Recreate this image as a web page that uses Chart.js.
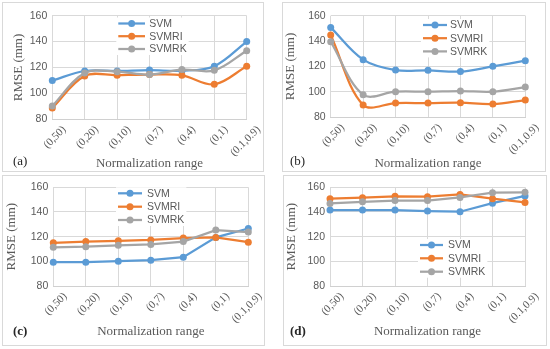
<!DOCTYPE html>
<html>
<head>
<meta charset="utf-8">
<script src="https://cdn.jsdelivr.net/npm/chart.js@4.4.0/dist/chart.umd.min.js"></script>
<style>
    body { margin: 0; background: #fff; }
    #page { position: relative; width: 550px; height: 349px; overflow: hidden; }
    .panel { position: absolute; box-sizing: border-box; border: 1px solid #d9d9d9; }
    .panel canvas { display: block; }
</style>
</head>
<body>
<div id="page">
    <div class="panel" style="left:2px;top:2px;width:262px;height:170px;"><canvas id="chartA" width="260" height="168"></canvas></div>
    <div class="panel" style="left:282px;top:2px;width:264px;height:170px;"><canvas id="chartB" width="262" height="168"></canvas></div>
    <div class="panel" style="left:2px;top:175px;width:263px;height:171px;"><canvas id="chartC" width="261" height="169"></canvas></div>
    <div class="panel" style="left:283px;top:175px;width:264px;height:171px;"><canvas id="chartD" width="262" height="169"></canvas></div>
</div>
<script>
// Data
const ranges = ['(0,50)', '(0,20)', '(0,10)', '(0,7)', '(0,4)', '(0,1)', '(0.1,0.9)'];
const seriesNames = ['SVM', 'SVMRI', 'SVMRK'];
const yTicks = [80, 100, 120, 140, 160];

const svmA   = [110, 117.3, 117.3, 118, 117.5, 121, 140];
const svmriA = [88.8, 113.5, 114, 114.5, 114, 107, 121];
const svmrkA = [90.3, 115.8, 116.8, 114.5, 118.4, 117.8, 133];

const svmB   = [150.8, 125.4, 117.2, 117, 116, 120.1, 124.6];
const svmriB = [144.8, 89.7, 91.2, 91.2, 91.5, 90.4, 93.6];
const svmrkB = [139.5, 97.8, 100.2, 100.2, 100.7, 100.2, 103.8];

const svmC   = [99.3, 99.3, 100.1, 100.9, 103.4, 119.4, 126.6];
const svmriC = [115, 116, 116.6, 117.3, 118.9, 119.4, 115.5];
const svmrkC = [111.4, 111.9, 113, 113.7, 116, 125.3, 123.7];

const svmD   = [141.5, 141.5, 141.5, 140.7, 140.2, 147.1, 153];
const svmriD = [150.8, 151.6, 152.7, 152.4, 154.2, 150.8, 147.7];
const svmrkD = [146.9, 148.2, 149.2, 149.2, 151.8, 155.6, 155.9];

const colors = ['#5b9bd5', '#ed7d31', '#a5a5a5'];
const textGray = '#595959';

// Legend drawn inside the plot area, plus the (a)/(b)... panel tag
const panelDecor = {
    id: 'panelDecor',
    afterDraw(chart, args, opts) {
        const ctx = chart.ctx;
        const lg = opts.legend;
        ctx.save();
        ctx.font = '10.5px "Liberation Sans", Arial, sans-serif';
        let maxW = 0;
        seriesNames.forEach(n => { maxW = Math.max(maxW, ctx.measureText(n).width); });
        ctx.fillStyle = '#fff';
        ctx.fillRect(lg.x0 - 2, lg.rows[0] - 6, lg.tx - lg.x0 + maxW + 4, lg.rows[2] - lg.rows[0] + 12);
        seriesNames.forEach((name, i) => {
            const y = lg.rows[i];
            ctx.strokeStyle = colors[i];
            ctx.lineWidth = 2.25;
            ctx.beginPath();
            ctx.moveTo(lg.x0, y);
            ctx.lineTo(lg.x1, y);
            ctx.stroke();
            ctx.fillStyle = colors[i];
            ctx.beginPath();
            ctx.arc((lg.x0 + lg.x1) / 2, y, 3.5, 0, Math.PI * 2);
            ctx.fill();
            ctx.fillStyle = textGray;
            ctx.textAlign = 'left';
            ctx.textBaseline = 'middle';
            ctx.fillText(name, lg.tx, y + 0.5);
        });
        ctx.font = (opts.tagBold ? 'bold ' : '') + '13px "Liberation Serif", "Times New Roman", serif';
        ctx.fillStyle = '#262626';
        ctx.textAlign = 'left';
        ctx.textBaseline = 'middle';
        ctx.fillText(opts.tag, opts.tagX, opts.tagY);
        ctx.restore();
    }
};

function makePanel(id, svm, svmri, svmrk, geo) {
    const ctx = document.getElementById(id).getContext('2d');
    const values = [svm, svmri, svmrk];
    new Chart(ctx, {
        type: 'line',
        data: {
            labels: ranges,
            datasets: values.map((v, i) => ({
                label: seriesNames[i],
                data: v,
                borderColor: colors[i],
                backgroundColor: colors[i],
                borderWidth: 2.25,
                pointRadius: 3.5,
                pointHoverRadius: 3.5,
                pointBorderWidth: 0,
                tension: geo.smooth ? 0.35 : 0,
                clip: false,
                order: 3 - i
            }))
        },
        options: {
            responsive: false,
            animation: false,
            events: [],
            layout: { padding: { left: 0, top: geo.top, right: geo.right, bottom: 0 } },
            plugins: {
                legend: { display: false },
                tooltip: { enabled: false },
                panelDecor: geo.decor
            },
            scales: {
                x: {
                    offset: false,
                    grid: { color: '#d9d9d9', drawTicks: false },
                    border: { color: '#d0d0d0' },
                    ticks: {
                        autoSkip: false,
                        maxRotation: 45,
                        minRotation: 45,
                        padding: 4,
                        labelOffset: 12,
                        color: textGray,
                        font: { family: '"Liberation Serif", "Times New Roman", serif', size: 11 }
                    },
                    title: {
                        display: true,
                        text: 'Normalization range',
                        color: textGray,
                        padding: { top: 0, bottom: geo.xTitlePad },
                        font: { family: '"Liberation Serif", "Times New Roman", serif', size: 13 }
                    },
                    afterFit: s => { s.height = geo.xHeight; }
                },
                y: {
                    min: 80,
                    max: 160,
                    afterBuildTicks: s => { s.ticks = yTicks.map(v => ({ value: v })); },
                    grid: { color: '#d9d9d9', drawTicks: false },
                    border: { display: false },
                    ticks: {
                        padding: 5,
                        color: textGray,
                        font: { family: '"Liberation Sans", Arial, sans-serif', size: 10.5 }
                    },
                    title: {
                        display: true,
                        text: 'RMSE (mm)',
                        color: textGray,
                        padding: { top: geo.yTitlePad, bottom: 0 },
                        font: { family: '"Liberation Serif", "Times New Roman", serif', size: 13 }
                    },
                    afterFit: s => { s.width = geo.yWidth; }
                }
            }
        },
        plugins: [panelDecor]
    });
}

document.addEventListener('DOMContentLoaded', () => {
    makePanel('chartA', svmA, svmriA, svmrkA, {
        smooth: true, top: 12.7, right: 16.3, xHeight: 51.7, yWidth: 49.3, xTitlePad: 0, yTitlePad: 8,
        decor: { legend: { x0: 115.3, x1: 142, tx: 146.3, rows: [20.5, 33.2, 46] }, tag: '(a)', tagX: 10, tagY: 159, tagBold: false }
    });
    makePanel('chartB', svmB, svmriB, svmrkB, {
        smooth: true, top: 12.7, right: 19.7, xHeight: 53.7, yWidth: 47.7, xTitlePad: 0, yTitlePad: 0,
        decor: { legend: { x0: 140, x1: 164, tx: 167, rows: [22, 35.2, 48.4] }, tag: '(b)', tagX: 7, tagY: 159, tagBold: false }
    });
    makePanel('chartC', svmC, svmriC, svmrkC, {
        smooth: false, top: 6.3, right: 15.7, xHeight: 59, yWidth: 50.3, xTitlePad: 6, yTitlePad: 1,
        decor: { legend: { x0: 115, x1: 139, tx: 144, rows: [17.3, 30.7, 44] }, tag: '(c)', tagX: 10, tagY: 156, tagBold: true }
    });
    makePanel('chartD', svmD, svmriD, svmrkD, {
        smooth: false, top: 6.3, right: 21, xHeight: 59, yWidth: 46, xTitlePad: 6, yTitlePad: 0,
        decor: { legend: { x0: 136, x1: 159, tx: 164, rows: [69, 82.3, 95.7] }, tag: '(d)', tagX: 6, tagY: 155.5, tagBold: true }
    });
});
</script>
</body>
</html>
